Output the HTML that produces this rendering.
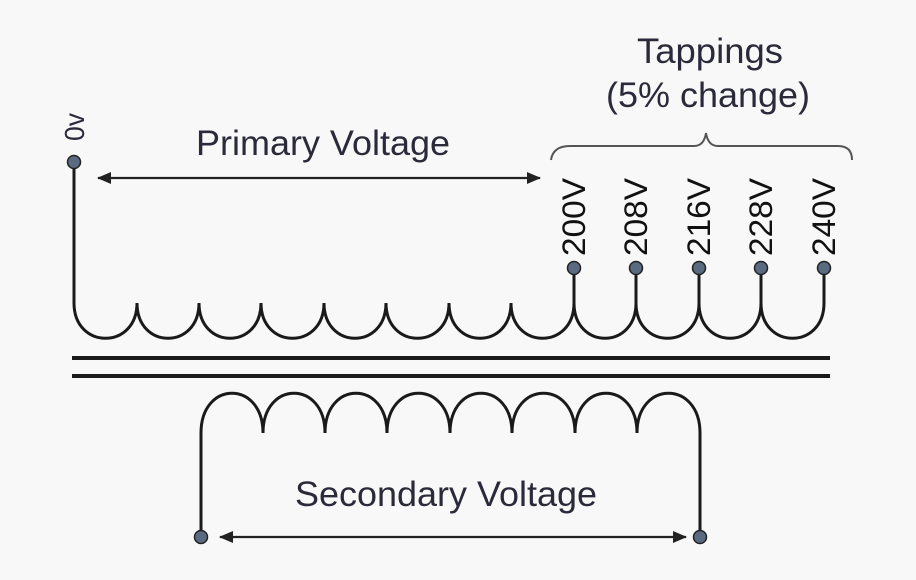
<!DOCTYPE html>
<html><head><meta charset="utf-8"><style>
html,body{margin:0;padding:0;background:#f8f8f8;}
svg{display:block;}
text{font-family:"Liberation Sans",Arial,sans-serif;}
</style></head><body>
<svg width="916" height="580" viewBox="0 0 916 580" xmlns="http://www.w3.org/2000/svg">
<rect width="916" height="580" fill="#f8f8f8"/>
<defs>
<marker id="ah" markerWidth="14" markerHeight="12" refX="13" refY="6" orient="auto-start-reverse" markerUnits="userSpaceOnUse">
<path d="M0,0 L14,6 L0,12 Z" fill="#222"/>
</marker>
</defs>
<g fill="none" stroke="#1a1a1a" stroke-width="3">
<path d="M74,162 L74,303
C74,350 137,350 137,303
C137,350 199,350 199,303
C199,350 261,350 261,303
C261,350 324,350 324,303
C324,350 386,350 386,303
C386,350 449,350 449,303
C449,350 511,350 511,303
C511,350 574,350 574,303
C574,350 636,350 636,303
C636,350 699,350 699,303
C699,350 761,350 761,303
C761,350 824,350 824,303 L824,268"/>
<path d="M574,303 L574,268 M636,303 L636,268 M699,303 L699,268 M761,303 L761,268"/>
<path d="M72,358 L830,358 M72,376 L830,376" stroke-width="4"/>
<path d="M201,537 L201,433
C201,380 263,380 263,433
C263,380 325,380 325,433
C325,380 387,380 387,433
C387,380 450,380 450,433
C450,380 512,380 512,433
C512,380 575,380 575,433
C575,380 637,380 637,433
C637,380 700,380 700,433 L700,537"/>
</g>
<g stroke="#222" stroke-width="2.2">
<line x1="98" y1="178" x2="540" y2="178" marker-start="url(#ah)" marker-end="url(#ah)"/>
<line x1="220" y1="537" x2="686" y2="537" marker-start="url(#ah)" marker-end="url(#ah)"/>
</g>
<path d="M551,160 Q553,146 570,146 L694,146 Q704,146 706,133 Q708,146 718,146 L838,146 Q852,146 852,160" fill="none" stroke="#555" stroke-width="2"/>
<g fill="#5a6a80" stroke="#222" stroke-width="1.5">
<circle cx="74" cy="162" r="6.5"/>
<circle cx="574" cy="268" r="6.5"/>
<circle cx="636" cy="268" r="6.5"/>
<circle cx="699" cy="268" r="6.5"/>
<circle cx="761" cy="268" r="6.5"/>
<circle cx="824" cy="268" r="6.5"/>
<circle cx="201" cy="537" r="6.5"/>
<circle cx="700" cy="537" r="6.5"/>
</g>
<g fill="#2a2a3a" font-size="35">
<text x="323" y="155" text-anchor="middle" textLength="254" lengthAdjust="spacingAndGlyphs">Primary Voltage</text>
<text x="446" y="506" text-anchor="middle" textLength="302" lengthAdjust="spacingAndGlyphs">Secondary Voltage</text>
<text x="710" y="63" text-anchor="middle" textLength="146" lengthAdjust="spacingAndGlyphs">Tappings</text>
<text x="708" y="107" text-anchor="middle" textLength="204" lengthAdjust="spacingAndGlyphs">(5% change)</text>
</g>
<g fill="#111" font-size="32">
<text transform="translate(585,256) rotate(-90)" textLength="78" lengthAdjust="spacingAndGlyphs">200V</text>
<text transform="translate(647,256) rotate(-90)" textLength="78" lengthAdjust="spacingAndGlyphs">208V</text>
<text transform="translate(710,256) rotate(-90)" textLength="78" lengthAdjust="spacingAndGlyphs">216V</text>
<text transform="translate(772,256) rotate(-90)" textLength="78" lengthAdjust="spacingAndGlyphs">228V</text>
<text transform="translate(835,256) rotate(-90)" textLength="78" lengthAdjust="spacingAndGlyphs">240V</text>
<text transform="translate(84,141) rotate(-90)" fill="#2a2a3a" font-size="28" textLength="28" lengthAdjust="spacingAndGlyphs">0v</text>
</g>
</svg>
</body></html>
